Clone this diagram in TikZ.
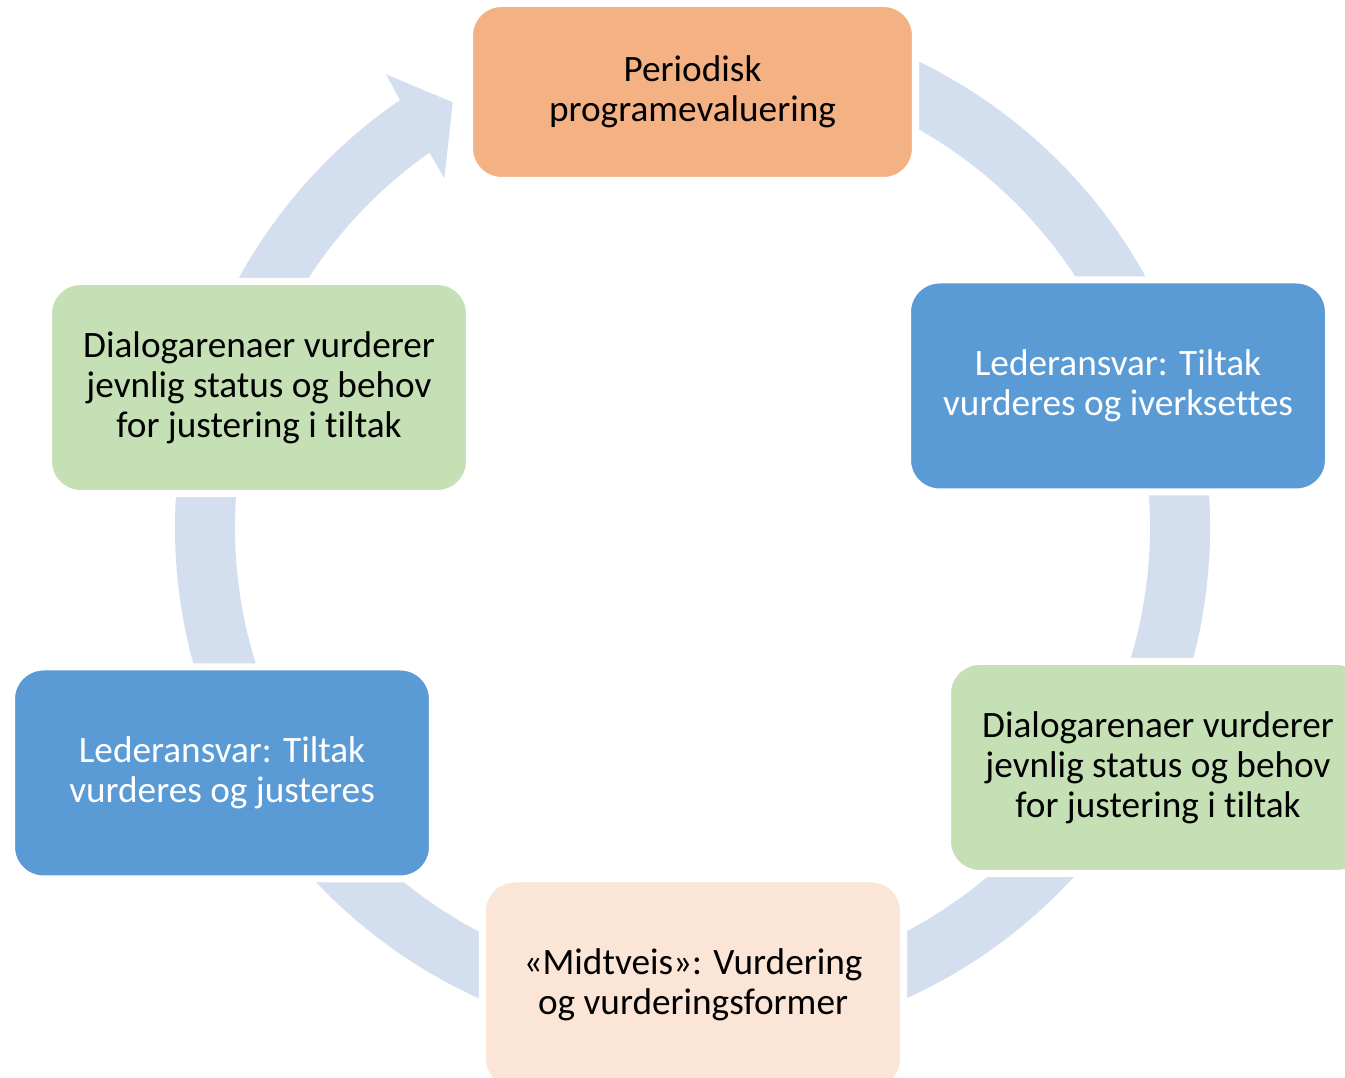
\documentclass[tikz,border=0pt]{standalone}
\usepackage{fontspec}
\setmainfont{Carlito}[Ligatures=NoCommon]
\usetikzlibrary{positioning,calc}
\definecolor{ringblue}{HTML}{D3DEEF}
\definecolor{evalorange}{HTML}{F4B183}
\definecolor{leaderblue}{HTML}{5B9BD5}
\definecolor{dialoggreen}{HTML}{C5E0B4}
\definecolor{midpeach}{HTML}{FBE5D6}

\begin{document}
\begin{tikzpicture}[
    box/.style = {rectangle, rounded corners=0.32cm, draw=white, line width=2pt, minimum width=4.21cm, minimum height=2.12cm, align=center, font=\fontsize{10.6}{11.4}\selectfont},
    evalbox/.style = {box, fill=evalorange, minimum width=4.46cm, minimum height=1.77cm},
    leaderbox/.style = {box, fill=leaderblue, text=white},
    dialogbox/.style = {box, fill=dialoggreen},
    midbox/.style = {box, fill=midpeach}
]
    \useasboundingbox (0,0) rectangle (13.45,10.78);
    \clip (0,0) rectangle (13.45,10.78);
    \coordinate (hub) at (6.925,5.51);
    % Ring with arrowhead, behind the boxes
    \fill[ringblue] ($(hub)+(100:5.175)$) arc[start angle=100, end angle=-235.57, radius=5.175cm]
        -- ($(hub)+(124.1:5.467)$) -- ($(hub)+(119.45:4.877)$) -- ($(hub)+(125.44:4.28)$)
        -- ($(hub)+(125.1:4.575)$) arc[start angle=-234.9, end angle=100, radius=4.575cm] -- cycle;
    % Boxes
    \node[evalbox] (prog) at (6.925,9.86) {Periodisk\\programevaluering};
    \node[leaderbox] (lead1) at (11.18,6.92) {Lederansvar: Tiltak\\vurderes og iverksettes};
    \node[dialogbox] (dial2) at (11.58,3.105) {Dialogarenaer vurderer\\jevnlig status og behov\\for justering i tiltak};
    \node[midbox] (midt) at (6.93,0.93) {«Midtveis»: Vurdering\\og vurderingsformer};
    \node[leaderbox] (lead2) at (2.22,3.05) {Lederansvar: Tiltak\\vurderes og justeres};
    \node[dialogbox] (dial1) at (2.59,6.905) {Dialogarenaer vurderer\\jevnlig status og behov\\for justering i tiltak};
\end{tikzpicture}
\end{document}
